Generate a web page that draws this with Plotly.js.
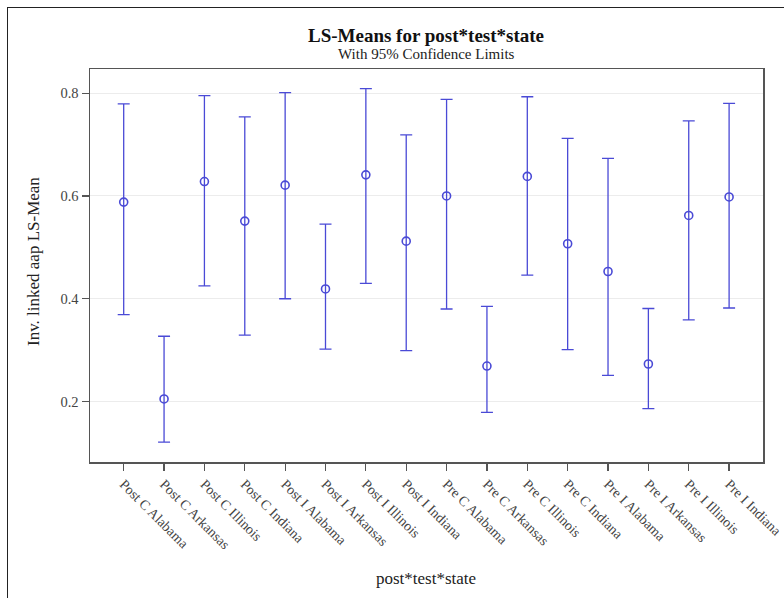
<!DOCTYPE html>
<html>
<head>
<meta charset="utf-8">
<script src="https://cdn.plot.ly/plotly-3.0.1.min.js"></script>
<style>
  html, body { margin: 0; padding: 0; background: #fff; }
  #wrap { position: relative; width: 784px; height: 598px; overflow: hidden; }
  #chart { position: absolute; left: 0; top: 0; width: 784px; height: 598px; }
  #frame { position: absolute; left: 7px; top: 7px; width: 800px; height: 620px;
           border: 1.5px solid #222; pointer-events: none; }
</style>
</head>
<body>
<div id="wrap">
  <div id="chart"></div>
  <div id="frame"></div>
</div>
<script>
const categories = [
  "Post C Alabama", "Post C Arkansas", "Post C Illinois", "Post C Indiana",
  "Post I Alabama", "Post I Arkansas", "Post I Illinois", "Post I Indiana",
  "Pre C Alabama", "Pre C Arkansas", "Pre C Illinois", "Pre C Indiana",
  "Pre I Alabama", "Pre I Arkansas", "Pre I Illinois", "Pre I Indiana"
];
const lsMeans = [0.588, 0.205, 0.628, 0.551, 0.621, 0.419, 0.641, 0.512,
                 0.600, 0.269, 0.638, 0.507, 0.453, 0.273, 0.562, 0.598];
const upperCL = [0.779, 0.327, 0.795, 0.754, 0.801, 0.545, 0.809, 0.719,
                 0.788, 0.385, 0.793, 0.712, 0.673, 0.381, 0.746, 0.780];
const lowerCL = [0.369, 0.121, 0.425, 0.329, 0.400, 0.302, 0.430, 0.299,
                 0.380, 0.179, 0.446, 0.301, 0.251, 0.186, 0.359, 0.382];
const yTicks = [0.2, 0.4, 0.6, 0.8];

const plus = upperCL.map((u, i) => u - lsMeans[i]);
const minus = lsMeans.map((m, i) => m - lowerCL[i]);
const blue = '#4a4ad6';
const font = 'Liberation Serif, Times New Roman, serif';

const trace = {
  type: 'scatter',
  mode: 'markers',
  x: categories,
  y: lsMeans,
  marker: { symbol: 'circle-open', size: 8, color: blue, line: { width: 1.6, color: blue } },
  error_y: { type: 'data', symmetric: false, array: plus, arrayminus: minus,
             color: blue, thickness: 1.3, width: 6 },
  hoverinfo: 'x+y'
};

const plotH = 598 - 69 - 136;
const plotW = 784 - 90 - 21;

const layout = {
  width: 784, height: 598,
  margin: { l: 90, r: 21, t: 69, b: 136 },
  paper_bgcolor: '#fff', plot_bgcolor: '#fff',
  font: { family: font, color: '#333', size: 14 },
  showlegend: false,
  title: { text: '<b>LS-Means for post*test*state</b>', x: 426 / 784, xanchor: 'center',
           y: 1 - 35 / 598, yanchor: 'middle', font: { family: font, size: 19, color: '#111' } },
  annotations: [
    { text: 'With 95% Confidence Limits', xref: 'paper', yref: 'paper',
      x: (426 - 90) / plotW, y: 1 + (69 - 54) / plotH, xanchor: 'center', yanchor: 'middle',
      showarrow: false, font: { family: font, size: 15, color: '#222' } },
    { text: 'post*test*state', xref: 'paper', yref: 'paper',
      x: (426 - 90) / plotW, y: -(578 - 462) / plotH, xanchor: 'center', yanchor: 'middle',
      showarrow: false, font: { family: font, size: 17, color: '#222' } },
    { text: 'Inv. linked aap LS-Mean', xref: 'paper', yref: 'paper', textangle: -90,
      x: (33 - 90) / plotW, y: 1 - (262 - 69) / plotH, xanchor: 'center', yanchor: 'middle',
      showarrow: false, font: { family: font, size: 17, color: '#222' } }
  ],
  xaxis: {
    type: 'category', range: [-0.835, 15.84], tickangle: 45,
    showline: true, linecolor: '#555', linewidth: 1.5, mirror: true,
    ticks: 'outside', ticklen: 7, tickcolor: '#555', tickwidth: 1.2,
    showgrid: false, zeroline: false,
    tickfont: { family: font, size: 14, color: '#444' }
  },
  yaxis: {
    range: [0.0823, 0.847], tickvals: yTicks, ticktext: yTicks.map(v => v.toFixed(1)),
    showline: true, linecolor: '#555', linewidth: 1.5, mirror: true,
    ticks: 'outside', ticklen: 7, tickcolor: '#555', tickwidth: 1.2,
    showgrid: true, gridcolor: '#ececec', gridwidth: 1, zeroline: false,
    tickfont: { family: font, size: 14.5, color: '#444' }
  }
};

Plotly.newPlot('chart', [trace], layout, { displayModeBar: false, staticPlot: true });
</script>
</body>
</html>
